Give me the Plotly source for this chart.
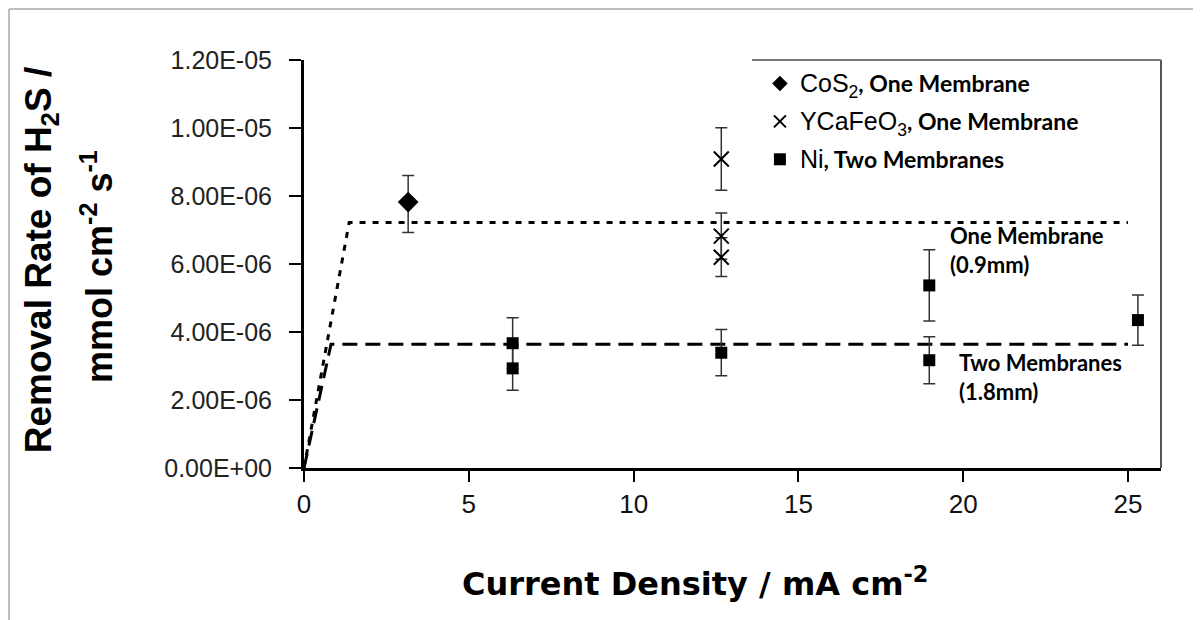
import plotly.graph_objects as go

# --- data ---
cos2_x = [3.16]
cos2_y = [7.82e-6]
cos2_err_plus = [0.78e-6]
cos2_err_minus = [0.89e-6]

ycafeo3_x = [12.66, 12.66, 12.66]
ycafeo3_y = [9.09e-6, 6.82e-6, 6.20e-6]
ycafeo3_err = [0.92e-6, 0.68e-6, 0.57e-6]

ni_x = [6.33, 6.33, 12.66, 18.97, 18.97, 25.3]
ni_y = [3.67e-6, 2.93e-6, 3.39e-6, 5.37e-6, 3.17e-6, 4.35e-6]
ni_err = [0.75e-6, 0.64e-6, 0.68e-6, 1.05e-6, 0.69e-6, 0.74e-6]

# model lines (one membrane 0.9 mm, two membranes 1.8 mm)
one_x = [0, 1.37, 25.0]
one_y = [0, 7.22e-6, 7.22e-6]
two_x = [0, 0.82, 25.0]
two_y = [0, 3.64e-6, 3.64e-6]

y_ticks = [0, 2e-6, 4e-6, 6e-6, 8e-6, 1e-5, 1.2e-5]
y_tick_text = ["0.00E+00", "2.00E-06", "4.00E-06", "6.00E-06",
               "8.00E-06", "1.00E-05", "1.20E-05"]
x_ticks = [0, 5, 10, 15, 20, 25]

ARIAL = "Liberation Sans, Arial, sans-serif"
WIDE_BOLD = "DejaVu Sans, Liberation Sans, sans-serif"
HUMAN = "Lato, Open Sans, sans-serif"
ERR = "#333333"


def chem(name):
    return f'<span style="font-family:{ARIAL};font-size:25px">{name}</span>'


fig = go.Figure()
fig.add_trace(go.Scatter(
    x=one_x, y=one_y, mode="lines", showlegend=False, hoverinfo="skip",
    line=dict(color="black", width=3, dash="6px,7px"),
))
fig.add_trace(go.Scatter(
    x=two_x, y=two_y, mode="lines", showlegend=False, hoverinfo="skip",
    line=dict(color="black", width=3, dash="15px,8px"),
))
fig.add_trace(go.Scatter(
    x=cos2_x, y=cos2_y, mode="markers", legendgroup="a",
    name=chem("CoS<sub>2</sub>") + "<b>, One Membrane</b>",
    marker=dict(symbol="diamond", size=16, color="black"),
    error_y=dict(type="data", symmetric=False, array=cos2_err_plus,
                 arrayminus=cos2_err_minus, color=ERR, thickness=1.5, width=6),
))
fig.add_trace(go.Scatter(
    x=ycafeo3_x, y=ycafeo3_y, mode="markers", legendgroup="b",
    name=chem("YCaFeO<sub>3</sub>") + "<b>, One Membrane</b>",
    marker=dict(symbol="x-thin", size=15, color="black",
                line=dict(width=2, color="black")),
    error_y=dict(type="data", array=ycafeo3_err, color=ERR,
                 thickness=1.5, width=6),
))
fig.add_trace(go.Scatter(
    x=ni_x, y=ni_y, mode="markers", legendgroup="c",
    name=chem("Ni") + "<b>, Two Membranes</b>",
    marker=dict(symbol="square", size=12, color="black"),
    error_y=dict(type="data", array=ni_err, color=ERR,
                 thickness=1.5, width=6),
))

# labels next to the model lines
ann_font = dict(family=HUMAN, size=22, color="black")
fig.add_annotation(x=0.7515, y=0.534, xref="paper", yref="paper",
                   text="<b>One Membrane<br>(0.9mm)</b>", showarrow=False,
                   xanchor="left", yanchor="middle", align="left", font=ann_font)
fig.add_annotation(x=0.762, y=0.224, xref="paper", yref="paper",
                   text="<b>Two Membranes<br>(1.8mm)</b>", showarrow=False,
                   xanchor="left", yanchor="middle", align="left", font=ann_font)

# axis titles
fig.add_annotation(x=-0.3356, y=0.51, xref="paper", yref="paper",
                   text="<b>Removal Rate of H<sub>2</sub>S /</b>", textangle=-90,
                   showarrow=False, xanchor="left", yanchor="middle",
                   font=dict(family=ARIAL, size=37, color="black"))
fig.add_annotation(x=-0.2707, y=0.4926, xref="paper", yref="paper",
                   text="<b>mmol cm<sup>-2</sup> s<sup>-1</sup></b>", textangle=-90,
                   showarrow=False, xanchor="left", yanchor="middle",
                   font=dict(family=ARIAL, size=36, color="black"))
fig.add_annotation(x=0.456, y=-0.279, xref="paper", yref="paper",
                   text="<b>Current Density / mA cm<sup>-2</sup></b>",
                   showarrow=False, xanchor="center", yanchor="middle",
                   font=dict(family=WIDE_BOLD, size=32, color="black"))

# frame pieces
fig.add_shape(type="line", xref="paper", yref="paper", x0=-0.3442, x1=-0.3442,
              y0=-0.40, y1=1.125, line=dict(color="#a8a8a8", width=1.5))
fig.add_shape(type="line", xref="paper", yref="paper", x0=-0.3442, x1=1.2,
              y0=1.125, y1=1.125, line=dict(color="#a8a8a8", width=1.5))
fig.add_shape(type="line", xref="paper", yref="paper", x0=1, x1=1,
              y0=0, y1=1, line=dict(color="#555555", width=2))
fig.add_shape(type="line", xref="paper", yref="paper", x0=0.5228, x1=1,
              y0=1, y1=1, line=dict(color="#777777", width=2))

fig.update_layout(
    width=1201, height=620,
    margin=dict(l=296, r=48, t=52, b=160),
    paper_bgcolor="white", plot_bgcolor="white",
    xaxis=dict(range=[0, 26], tickvals=x_ticks, showgrid=False, zeroline=False,
               showline=True, linecolor="black", linewidth=3,
               ticks="outside", ticklen=11, tickwidth=2, tickcolor="black",
               ticklabelstandoff=0,
               tickfont=dict(family=ARIAL, size=26, color="#111111")),
    yaxis=dict(range=[0, 1.2e-5], tickvals=y_ticks, ticktext=y_tick_text,
               showgrid=False, zeroline=False,
               showline=True, linecolor="black", linewidth=3,
               ticks="outside", ticklen=12, tickwidth=2, tickcolor="black",
               ticklabelstandoff=12,
               tickfont=dict(family=ARIAL, size=25, color="#222222")),
    legend=dict(x=0.532, y=0.995, xanchor="left", yanchor="top",
                bgcolor="rgba(0,0,0,0)", itemsizing="constant",
                tracegroupgap=5, font=dict(family=HUMAN, size=23, color="black")),
    showlegend=True,
)

fig.write_html("out.html")
